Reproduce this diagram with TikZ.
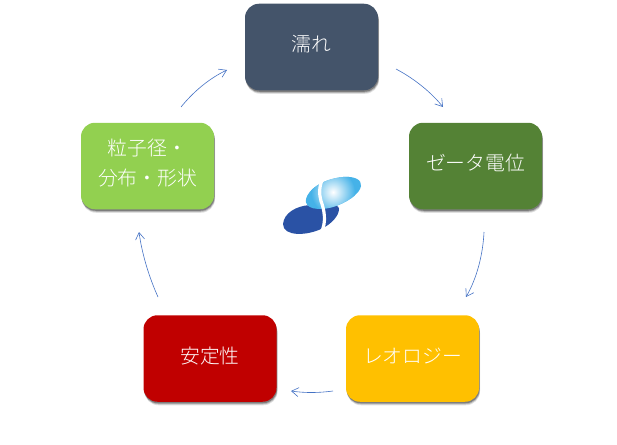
\documentclass[tikz,border=0pt]{standalone}
\usepackage{fontspec}
\setmainfont{Noto Sans CJK JP}[UprightFont=* Light]
\usetikzlibrary{arrows.meta,shadows}
\definecolor{cA}{HTML}{44546A}
\definecolor{cB}{HTML}{548235}
\definecolor{cC}{HTML}{FFC000}
\definecolor{cD}{HTML}{C00000}
\definecolor{cE}{HTML}{92D050}
\definecolor{arr}{HTML}{4472C4}
\definecolor{logoD}{HTML}{2A52A5}
\definecolor{logoL}{HTML}{45B2E8}
\newcommand\liftup[1]{\raisebox{1.5pt}{\begin{tabular}{@{}c@{}}#1\end{tabular}}}
\tikzset{
  x=1pt,y=-1pt,
  pill/.style={rectangle,rounded corners=14pt,minimum width=133pt,minimum height=86.5pt,inner sep=0pt,align=center,text=white,font=\fontsize{19.8}{24}\selectfont,
    general shadow={fill=black,opacity=.12,shadow xshift=1pt,shadow yshift=-3.5pt},
    general shadow={fill=black,opacity=.2,shadow xshift=.8pt,shadow yshift=-2.5pt},
    general shadow={fill=black,opacity=.3,shadow xshift=.5pt,shadow yshift=-1.5pt}},
  link/.style={draw=arr,line width=.6pt,-{Straight Barb[length=7pt,width=9pt,line width=.6pt]}}
}
\begin{document}
\begin{tikzpicture}
\useasboundingbox (0,0) rectangle (617,444);
\node[pill,fill=cA] (wet) at (311.5,47) {\liftup{濡れ}};
\node[pill,fill=cB] (zeta) at (475.5,166) {\liftup{ゼータ電位}};
\node[pill,fill=cC] (rheo) at (412.5,358.5) {\liftup{レオロジー}};
\node[pill,fill=cD] (stab) at (210,358.5) {\liftup{安定性}};
\node[pill,fill=cE] (part) at (147.5,166) {\liftup{粒子径・\\[6pt]分布・形状}};
% connector ends
\coordinate (a1) at (396,69); \coordinate (a2) at (443,107);
\coordinate (b1) at (484,232); \coordinate (b2) at (466,297);
\coordinate (c1) at (333,391); \coordinate (c2) at (291,391);
\coordinate (d1) at (158,297); \coordinate (d2) at (139,232);
\coordinate (e1) at (181,107); \coordinate (e2) at (227,70);
\draw[link] (a1) .. controls (413,78) and (430,91) .. (a2);
\draw[link] (b1) .. controls (483,254) and (477,278) .. (b2);
\draw[link] (c1) .. controls (318,393) and (305,393) .. (c2);
\draw[link] (d1) .. controls (149,277) and (142,254) .. (d2);
\draw[link] (e1) .. controls (194,91) and (210,78) .. (e2);
% logo
\fill[logoD] (283,224) .. controls (284,213) and (296,206) .. (310,205)
  .. controls (325,203) and (339,203) .. (339,209)
  .. controls (339,216) and (331,224) .. (323,228)
  .. controls (308,236) and (283,237) .. (283,224) -- cycle;
\begin{scope}
\clip (306,199) .. controls (308,190) and (322,179) .. (343,177)
  .. controls (355,176) and (362,180) .. (361,186)
  .. controls (360,194) and (346,203) .. (333,207)
  .. controls (318,211) and (304,209) .. (306,199) -- cycle;
\fill[logoL] (300,170) rectangle (366,215);
\shade[inner color=white,outer color=logoL] (333,192) circle (22pt);
\end{scope}
\draw[white,line width=3.2pt] (323,178) .. controls (319,186) and (319,194) .. (321,201)
  .. controls (324,209) and (327,222) .. (321,233);
\end{tikzpicture}
\end{document}
